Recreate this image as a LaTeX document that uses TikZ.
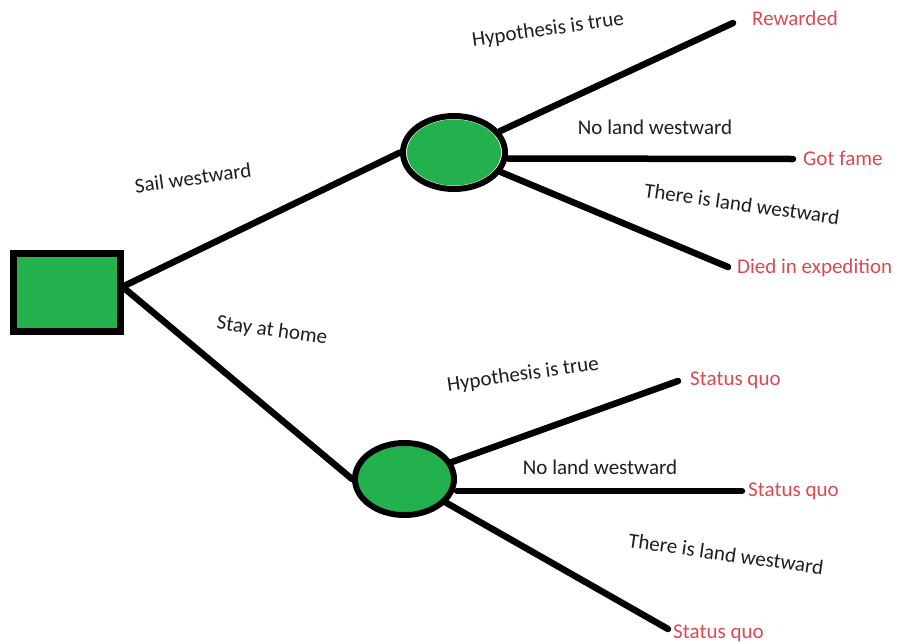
\documentclass[tikz,border=0pt]{standalone}
\usepackage{fontspec}
\setmainfont{Carlito}
\usetikzlibrary{shapes.geometric}
\definecolor{paintgreen}{RGB}{34,177,76}
\definecolor{outred}{RGB}{218,74,80}
\definecolor{labelink}{RGB}{30,30,30}
\tikzset{
  decision/.style={draw=black, line width=7pt, fill=paintgreen, rectangle,
    minimum width=107pt, minimum height=78pt, inner sep=0pt},
  chance/.style={draw=black, line width=6pt, fill=white, ellipse, inner sep=0pt,
    path picture={\fill[paintgreen] (path picture bounding box.center)
      ellipse [x radius=47pt, y radius=33pt];}},
  branch/.style={line width=6.5pt, line cap=round},
  choice/.style={text=labelink, font=\fontsize{21}{25}\selectfont, inner sep=0pt},
  outcome/.style={text=outred, font=\fontsize{21}{25}\selectfont, inner sep=0pt, anchor=mid west}
}
\begin{document}
\begin{tikzpicture}[x=1pt,y=-1pt]
\useasboundingbox (0,0) rectangle (901,643);

% decision and chance nodes
\node[decision] (d) at (67,292) {};
\node[chance, minimum width=102pt, minimum height=73pt] (c1) at (454,152.5) {};
\node[chance, minimum width=99pt, minimum height=72pt] (c2) at (404.5,479) {};

% free ends of the outcome branches
\coordinate (e1) at (733,23);
\coordinate (e2) at (793,159);
\coordinate (e3) at (728,267);
\coordinate (f1) at (678,381);
\coordinate (f2) at (742,491);
\coordinate (f3) at (668,629);

% branches
\draw[branch] ([yshift=6pt]d.east) -- (c1.west);
\draw[branch] ([yshift=4pt]d.east) -- (c2.west);
\draw[branch] (c1) -- (e1);
\draw[branch] ([yshift=-6pt]c1.east) -- (e2);
\draw[branch] (c1) -- (e3);
\draw[branch] (c2) -- (f1);
\draw[branch] ([yshift=-12pt]c2.east) -- (f2);
\draw[branch] (c2) -- (f3);

% branch labels
\node[choice, rotate=8] (l1) at (193,178) {Sail westward};
\node[choice, rotate=-8] (l2) at (272,331) {Stay at home};
\node[choice, rotate=8] (l3) at (548,30) {Hypothesis is true};
\node[choice] (l4) at (655,127) {No land westward};
\node[choice, rotate=-8] (l5) at (742,204) {There is land westward};
\node[choice, rotate=8] (l6) at (523,375) {Hypothesis is true};
\node[choice] (l7) at (600,467) {No land westward};
\node[choice, rotate=-8] (l8) at (726,554) {There is land westward};

% outcomes
\node[outcome] (o1) at (752,23) {Rewarded};
\node[outcome] (o2) at (803,163) {Got fame};
\node[outcome] (o3) at (737,271) {Died in expedition};
\node[outcome] (o4) at (690,383) {Status quo};
\node[outcome] (o5) at (748,494) {Status quo};
\node[outcome] (o6) at (673,636) {Status quo};
\end{tikzpicture}
\end{document}
